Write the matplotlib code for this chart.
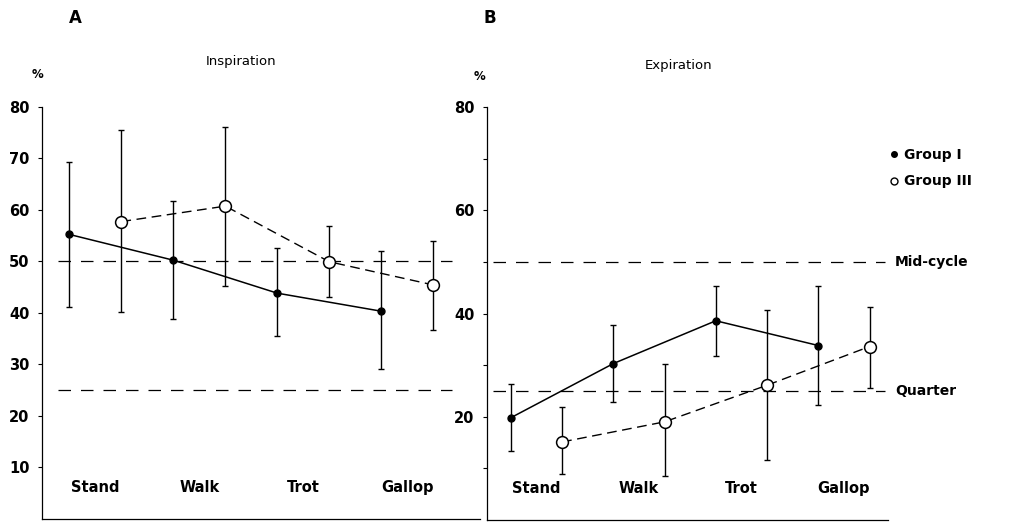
import numpy as np
import matplotlib
matplotlib.use("Agg")
import matplotlib.pyplot as plt
from matplotlib.lines import Line2D

# data
gaits = ["Stand", "Walk", "Trot", "Gallop"]

insp_g1 = [55.2, 50.2, 43.8, 40.3]
insp_g1_lo = [41.2, 38.7, 35.5, 29.0]
insp_g1_hi = [69.3, 61.6, 52.5, 52.0]
insp_g3 = [57.7, 60.7, 49.9, 45.4]
insp_g3_lo = [40.2, 45.1, 43.1, 36.7]
insp_g3_hi = [75.5, 76.1, 56.9, 54.0]

exp_g1 = [19.8, 30.3, 38.6, 33.8]
exp_g1_lo = [13.3, 22.9, 31.8, 22.3]
exp_g1_hi = [26.3, 37.8, 45.4, 45.3]
exp_g3 = [15.1, 19.0, 26.1, 33.6]
exp_g3_lo = [8.9, 8.4, 11.6, 25.6]
exp_g3_hi = [21.8, 30.2, 40.6, 41.3]

ref_levels = [50, 25]
ref_names = ["Mid-cycle", "Quarter"]

plt.rcParams['font.family'] = ['DejaVu Sans']

W, H = 1011, 526
fig = plt.figure(figsize=(W / 100, H / 100), dpi=100)

def px_axes(l, r, t, b):
    return fig.add_axes([l / W, 1 - b / H, (r - l) / W, (b - t) / H])

axA = px_axes(42, 480, 106.7, 518.8)
axB = px_axes(487, 888, 107.3, 519.8)


def panel(ax, g1, g1lo, g1hi, g3, g3lo, g3hi, xlim, dash_span, yt_labels):
    x = np.arange(len(gaits))
    x1 = x - 0.25
    x3 = x + 0.25
    for lev in ref_levels:
        ax.plot(dash_span, [lev, lev], color="k", lw=0.9, dashes=(10, 8))
    g1 = np.array(g1); g3 = np.array(g3)
    ax.errorbar(x1, g1, yerr=[g1 - np.array(g1lo), np.array(g1hi) - g1],
                fmt="none", ecolor="k", elinewidth=1.0, capsize=2.5, capthick=1.0)
    ax.errorbar(x3, g3, yerr=[g3 - np.array(g3lo), np.array(g3hi) - g3],
                fmt="none", ecolor="k", elinewidth=1.0, capsize=2.5, capthick=1.0)
    ax.plot(x1, g1, color="k", lw=1.1, marker="o", ms=5, mfc="k", mec="k", zorder=4)
    ax.plot(x3, g3, color="k", lw=1.0, dashes=(7, 4), marker="o", ms=8.5,
            mfc="white", mec="k", mew=1.1, zorder=4)
    for i, g in enumerate(gaits):
        ax.text(x[i], 6, g, ha="center", va="center", fontsize=10.5, fontweight="bold")
    ax.set_xlim(*xlim)
    ax.set_ylim(0, 80)
    ax.set_xticks([])
    ax.set_yticks(np.arange(10, 81, 10))
    ax.set_yticklabels(yt_labels)
    ax.tick_params(axis="y", direction="out", length=3, width=0.8, pad=6,
                   labelsize=10.5)
    for lab in ax.get_yticklabels():
        lab.set_fontweight("bold")
    ax.spines["top"].set_visible(False)
    ax.spines["right"].set_visible(False)
    ax.spines["left"].set_linewidth(0.9)
    ax.spines["bottom"].set_linewidth(0.9)
    ax.patch.set_visible(False)


panel(axA, insp_g1, insp_g1_lo, insp_g1_hi, insp_g3, insp_g3_lo, insp_g3_hi,
      (-0.514, 3.70), [-0.36, 3.43], [str(v) for v in range(10, 81, 10)])
panel(axB, exp_g1, exp_g1_lo, exp_g1_hi, exp_g3, exp_g3_lo, exp_g3_hi,
      (-0.483, 3.43), [-0.425, 3.40],
      ["" if v % 20 else str(v) for v in range(10, 81, 10)])

# reference line names
for lev, name in zip(ref_levels, ref_names):
    axB.text(1.017, lev, name, transform=axB.get_yaxis_transform(),
             ha="left", va="center", fontsize=10, fontweight="bold", clip_on=False)

# panel letters, titles, % signs
fig.text(75 / W, 1 - 18 / H, "A", fontsize=12, fontweight="bold", ha="center", va="center")
fig.text(490 / W, 1 - 18 / H, "B", fontsize=12, fontweight="bold", ha="center", va="center")
fig.text(241 / W, 1 - 62 / H, "Inspiration", fontsize=9.5, ha="center", va="center")
fig.text(679 / W, 1 - 65 / H, "Expiration", fontsize=9.5, ha="center", va="center")
fig.text(37 / W, 1 - 75 / H, "%", fontsize=8.5, fontweight="bold", ha="center", va="center")
fig.text(480 / W, 1 - 77 / H, "%", fontsize=8.5, fontweight="bold", ha="center", va="center")

handles = [Line2D([], [], ls="none", marker="o", ms=4, mfc="k", mec="k"),
           Line2D([], [], ls="none", marker="o", ms=5, mfc="white", mec="k")]
fig.legend(handles, ["Group I", "Group III"], loc="upper left",
           bbox_to_anchor=(890 / W, 1 - 148 / H), frameon=False,
           handlelength=0.6, handletextpad=0.4, labelspacing=0.9,
           prop={"size": 10, "weight": "bold"}, borderaxespad=0, borderpad=0)

fig.savefig("out.png", dpi=100)
